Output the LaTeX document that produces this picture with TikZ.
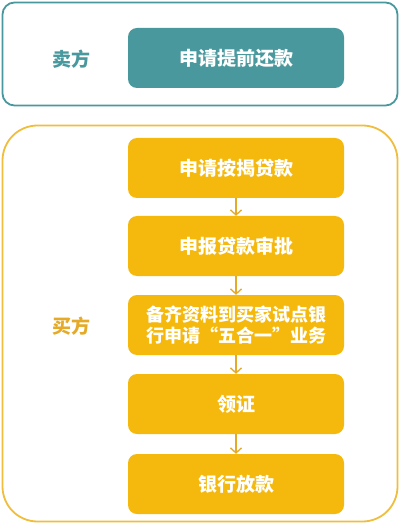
\documentclass[tikz,border=0pt]{standalone}
\usepackage{fontspec}
\setmainfont{Noto Sans CJK SC}
\usetikzlibrary{arrows.meta}
\definecolor{tl}{RGB}{72, 152, 157}
\definecolor{yy}{RGB}{245, 184, 12}
\definecolor{yl}{RGB}{240, 190, 60}
\definecolor{ya}{RGB}{228, 170, 40}

\begin{document}
\begin{tikzpicture}[
  frame/.style={rectangle, line width=1.8pt, fill=white, inner sep=0pt},
  stepbox/.style={rectangle, rounded corners=9pt, minimum width=216pt, minimum height=60pt, inner sep=0pt, text=white, font=\fontsize{19}{22}\selectfont\bfseries, align=center},
  side/.style={font=\fontsize{19}{22}\selectfont\bfseries},
  flow/.style={line width=1.3pt, color=ya, -{Straight Barb[length=5pt, width=11pt, line width=1.3pt]}}]
\useasboundingbox (0pt, 0pt) rectangle (400pt, -526pt);
\node (top) [frame, rounded corners=12pt, draw=tl, minimum width=395pt, minimum height=103pt] at (200pt, -54pt) {};
\node (bot) [frame, rounded corners=35pt, draw=yl, minimum width=395pt, minimum height=396pt] at (200pt, -323.5pt) {};
\node (seller) [side, text=tl] at (71pt, -59pt) {卖方};
\node (buyer) [side, text=ya] at (71pt, -326pt) {买方};
\node (0) [stepbox, fill=tl] at (236pt, -58pt) {申请提前还款};
\node (1) [stepbox, fill=yy] at (236pt, -168pt) {申请按揭贷款};
\node (2) [stepbox, fill=yy] at (236pt, -246pt) {申报贷款审批};
\node (3) [stepbox, fill=yy, font=\fontsize{18}{21.5}\selectfont\bfseries] at (236pt, -325pt) {备齐资料到买家试点银\\行申请“五合一”业务};
\node (4) [stepbox, fill=yy] at (236pt, -404pt) {领证};
\node (5) [stepbox, fill=yy] at (236pt, -484pt) {银行放款};
\draw [flow] (1) to  (2);
\draw [flow] (2) to  (3);
\draw [flow] (3) to  (4);
\draw [flow] (4) to  (5);
\end{tikzpicture}
\end{document}
